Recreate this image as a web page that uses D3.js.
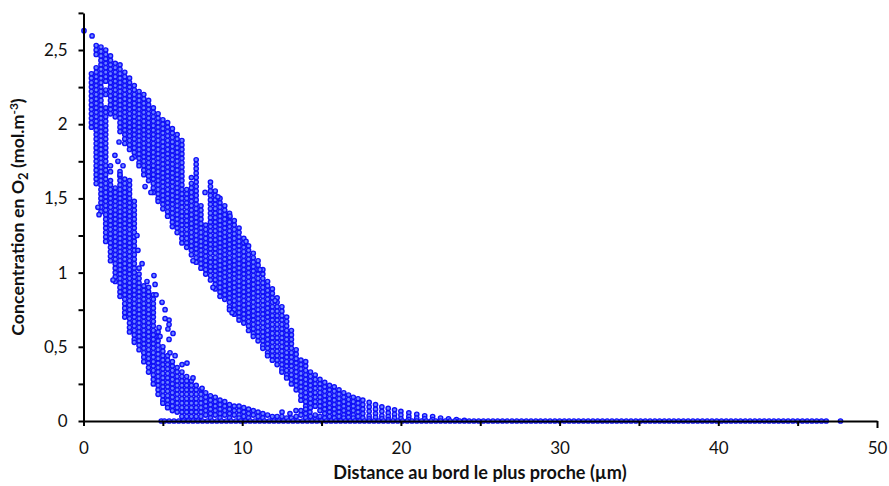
<!DOCTYPE html>
<html><head><meta charset="utf-8">
<script src="https://cdn.jsdelivr.net/npm/d3@7"></script>
<style>html,body{margin:0;background:#fff}svg{display:block}text{font-family:Lato,sans-serif;fill:#111}</style>
</head><body><svg id="c" width="889" height="486"></svg>
<script>
const xTicks=[0,5,10,15,20,25,30,35,40,45,50];
const yTicks=[0,.25,.5,.75,1,1.25,1.5,1.75,2,2.25,2.5,2.75];
const xTitle="Distance au bord le plus proche (µm)";
const columnX=[.03,.54,.5,.8,1.1,1.4,1.7,2,2.3,2.6,2.9,3.2,3.5,3.8,4.1,4.4,4.7,5,5.3,5.6,5.9,6.2,6.5,6.8,7.1,7.4,7.7,8,8.3,8.6,8.9,9.2,9.5,9.8,10.1,10.4,10.7,11,11.3,11.6,11.9,12.2,12.5,12.8,13.1,13.4,13.7,14,14.3,14.6,14.9,15.2,15.5,15.8,16.1,16.4,16.7,17,17.3,17.6,18,18.4,18.8,19.2,19.6,20,20.5,21,21.5,22,22.5,23,23.5,24];
const columnY=[
[2.63],
[2.595],
[2.34,2.31,2.28,2.25,2.22,2.19,2.16,2.13,2.10,2.07,2.04,2.01,1.98],
[2.53,2.50,2.47,2.38,2.35,2.32,2.29,2.26,2.23,2.20,2.17,2.14,2.11,2.08,2.05,2.02,1.99,1.96,1.93,1.90,1.87,1.84,1.81,1.78,1.75,1.72,1.69,1.66,1.63,1.60],
[2.52,2.49,2.46,2.43,2.40,2.37,2.34,2.31,2.28,2.25,2.22,2.19,2.16,2.13,2.10,2.07,2.04,2.01,1.98,1.95,1.92,1.89,1.86,1.83,1.80,1.77,1.74,1.71,1.68,1.65,1.62,1.59,1.56,1.53,1.50,1.47,1.44,1.41],
[2.50,2.47,2.44,2.41,2.38,2.35,2.32,2.29,2.23,2.20,2.11,2.08,2.05,2.02,1.99,1.96,1.93,1.90,1.87,1.84,1.81,1.78,1.75,1.72,1.69,1.66,1.63,1.60,1.57,1.54,1.51,1.48,1.45,1.42,1.39,1.36,1.33,1.30,1.27,1.24,1.21],
[2.46,2.43,2.40,2.37,2.34,2.31,2.28,2.25,2.22,2.19,2.16,2.13,2.10,2.07,1.72,1.68,1.62,1.59,1.56,1.53,1.50,1.47,1.44,1.41,1.38,1.35,1.32,1.29,1.26,1.23,1.20,1.17,1.14,1.11,1.08],
[2.41,2.38,2.35,2.32,2.29,2.26,2.23,2.20,2.17,2.14,2.11,2.08,2.05,1.57,1.54,1.51,1.48,1.45,1.42,1.39,1.36,1.33,1.30,1.27,1.24,1.21,1.18,1.15,1.12,1.09,1.06,1.03,1.00,.97,.94],
[2.40,2.37,2.34,2.31,2.28,2.25,2.22,2.19,2.16,2.13,2.10,2.07,2.04,2.01,1.98,1.95,1.68,1.65,1.62,1.59,1.56,1.53,1.50,1.47,1.44,1.41,1.38,1.35,1.32,1.29,1.26,1.23,1.20,1.17,1.14,1.11,1.08,1.05,1.02,.99,.96,.93,.90,.87,.84],
[2.35,2.32,2.29,2.26,2.23,2.20,2.17,2.14,2.11,2.08,2.05,2.02,1.99,1.96,1.93,1.90,1.87,1.63,1.60,1.57,1.54,1.51,1.48,1.45,1.42,1.39,1.36,1.33,1.30,1.27,1.24,1.21,1.18,1.15,1.12,1.09,1.06,1.03,1.00,.97,.94,.91,.88,.85,.82,.79,.76,.73,.70],
[2.31,2.28,2.25,2.22,2.19,2.16,2.13,2.10,2.07,2.04,2.01,1.98,1.95,1.92,1.89,1.86,1.83,1.62,1.59,1.56,1.53,1.50,1.47,1.44,1.41,1.38,1.35,1.32,1.29,1.26,1.23,1.20,1.17,1.14,1.11,1.08,1.05,1.02,.99,.96,.93,.90,.87,.84,.81,.78,.75,.72,.69,.66,.63,.60],
[2.26,2.23,2.20,2.17,2.14,2.11,2.08,2.05,2.02,1.99,1.96,1.93,1.90,1.87,1.84,1.81,1.78,1.48,1.45,1.42,1.39,1.36,1.33,1.30,1.27,1.24,1.21,1.18,1.15,1.12,1.09,1.06,1.03,1.00,.97,.94,.91,.88,.85,.82,.79,.76,.73,.70,.67,.64,.61,.58,.55,.53],
[2.22,2.19,2.16,2.13,2.10,2.07,2.04,2.01,1.98,1.95,1.92,1.89,1.86,1.83,1.80,1.77,1.74,1.72,1.03,.99,.96,.93,.90,.87,.84,.81,.78,.75,.72,.69,.66,.63,.60,.57,.54,.51,.48],
[2.20,2.17,2.14,2.11,2.08,2.05,2.02,1.99,1.96,1.93,1.90,1.87,1.84,1.81,1.78,1.75,1.72,1.69,1.66,.91,.88,.85,.82,.79,.76,.73,.70,.67,.64,.61,.58,.55,.52,.49,.46,.43,.40],
[2.16,2.13,2.10,2.07,2.04,2.01,1.98,1.95,1.92,1.89,1.86,1.83,1.80,1.77,1.74,1.71,1.68,1.65,1.62,.90,.87,.84,.81,.78,.75,.72,.69,.66,.63,.60,.57,.54,.51,.48,.45,.42,.39,.36,.33],
[2.11,2.08,2.05,2.02,1.99,1.96,1.93,1.90,1.87,1.84,1.81,1.78,1.75,1.72,1.69,1.66,1.63,1.60,1.57,1.54,.85,.82,.79,.76,.73,.70,.67,.64,.61,.58,.55,.52,.49,.46,.43,.40,.37,.34,.31,.28,.25],
[2.07,2.04,2.01,1.98,1.95,1.92,1.89,1.86,1.83,1.80,1.77,1.74,1.71,1.68,1.65,1.62,1.59,1.56,1.53,1.50,1.48,.60,.57,.54,.51,.48,.45,.42,.39,.36,.33,.30,.27,.24,.21,.18],
[2.03,2.00,1.97,1.94,1.91,1.88,1.85,1.82,1.79,1.76,1.73,1.70,1.67,1.64,1.61,1.58,1.55,1.52,1.49,1.46,1.43,.50,.47,.44,.41,.38,.35,.32,.29,.26,.23,.20,.17,.14,.12],
[2.01,1.98,1.95,1.92,1.89,1.86,1.83,1.80,1.77,1.74,1.71,1.68,1.65,1.62,1.59,1.56,1.53,1.50,1.47,1.44,1.41,1.38,.44,.41,.38,.35,.32,.29,.26,.23,.20,.17,.14,.11,.09],
[1.97,1.94,1.91,1.88,1.85,1.82,1.79,1.76,1.73,1.70,1.67,1.64,1.61,1.58,1.55,1.52,1.49,1.46,1.43,1.40,1.37,1.34,1.31,.40,.37,.34,.31,.28,.25,.22,.19,.16,.13,.10,.07],
[1.93,1.90,1.87,1.84,1.81,1.78,1.75,1.72,1.69,1.66,1.63,1.60,1.57,1.54,1.51,1.48,1.45,1.42,1.39,1.36,1.33,1.30,1.27,.36,.33,.30,.27,.24,.21,.18,.15,.12,.09,.06],
[1.89,1.86,1.83,1.80,1.77,1.74,1.71,1.68,1.65,1.62,1.59,1.56,1.53,1.50,1.47,1.44,1.41,1.38,1.35,1.32,1.29,1.26,1.23,1.20,.33,.30,.27,.24,.21,.18,.15,.12,.09,.06,.03],
[1.56,1.53,1.50,1.47,1.44,1.41,1.38,1.35,1.32,1.29,1.26,1.23,1.20,1.17,.30,.27,.24,.21,.18,.15,.12,.09,.06,.03],
[1.64,1.60,1.57,1.54,1.51,1.48,1.45,1.42,1.39,1.36,1.33,1.30,1.27,1.24,1.21,1.18,1.15,1.12,.27,.24,.21,.18,.15,.12,.09,.06,.03],
[1.76,1.73,1.70,1.67,1.64,1.61,1.58,1.55,1.52,1.49,1.46,1.43,1.40,1.37,1.34,1.31,1.28,1.25,1.22,1.19,1.16,1.13,1.10,1.07,.24,.21,.18,.15,.12,.09,.06,.03],
[1.45,1.42,1.39,1.36,1.33,1.30,1.27,1.24,1.21,1.18,1.15,1.12,1.09,1.06,1.03,.21,.18,.15,.12,.09,.06,.03],
[1.32,1.29,1.26,1.23,1.20,1.17,1.14,1.11,1.08,1.05,1.02,.99,.19,.16,.13,.10,.07,.04],
[1.61,1.58,1.55,1.52,1.49,1.46,1.43,1.40,1.37,1.34,1.31,1.28,1.25,1.22,1.19,1.16,1.13,1.10,1.07,1.04,1.01,.98,.95,.17,.14,.11,.08,.05,.02],
[1.55,1.52,1.49,1.46,1.43,1.40,1.37,1.34,1.31,1.28,1.25,1.22,1.19,1.16,1.13,1.10,1.07,1.04,1.01,.98,.95,.92,.89,.16,.13,.10,.07,.04],
[1.50,1.47,1.44,1.41,1.38,1.35,1.32,1.29,1.26,1.23,1.20,1.17,1.14,1.11,1.08,1.05,1.02,.99,.96,.93,.90,.87,.84,.14,.11,.08,.05,.02],
[1.45,1.42,1.39,1.36,1.33,1.30,1.27,1.24,1.21,1.18,1.15,1.12,1.09,1.06,1.03,1.00,.97,.94,.91,.88,.85,.82,.13,.10,.07,.04],
[1.40,1.37,1.34,1.31,1.28,1.25,1.22,1.19,1.16,1.13,1.10,1.07,1.04,1.01,.98,.95,.92,.89,.86,.83,.80,.77,.75,.11,.08,.05,.02],
[1.35,1.32,1.29,1.26,1.23,1.20,1.17,1.14,1.11,1.08,1.05,1.02,.99,.96,.93,.90,.87,.84,.81,.78,.75,.72,.10,.07,.04],
[1.30,1.27,1.24,1.21,1.18,1.15,1.12,1.09,1.06,1.03,1.00,.97,.94,.91,.88,.85,.82,.79,.76,.73,.70,.68,.10,.07,.04,.02],
[1.23,1.20,1.17,1.14,1.11,1.08,1.05,1.02,.99,.96,.93,.90,.87,.84,.81,.78,.75,.72,.69,.66,.09,.06,.03],
[1.18,1.15,1.12,1.09,1.06,1.03,1.00,.97,.94,.91,.88,.85,.82,.79,.76,.73,.70,.67,.64,.61,.08,.05,.02],
[1.13,1.10,1.07,1.04,1.01,.98,.95,.92,.89,.86,.83,.80,.77,.74,.71,.68,.65,.62,.59,.57,.07,.04],
[1.08,1.05,1.02,.99,.96,.93,.90,.87,.84,.81,.78,.75,.72,.69,.66,.63,.60,.57,.54,.06,.03],
[1.02,.99,.96,.93,.90,.87,.84,.81,.78,.75,.72,.69,.66,.63,.60,.57,.54,.51,.49,.05,.02],
[.94,.91,.88,.85,.82,.79,.76,.73,.70,.67,.64,.61,.58,.55,.52,.49,.46,.44,.04],
[.89,.86,.83,.80,.77,.74,.71,.68,.65,.62,.59,.56,.53,.50,.47,.44,.41,.03],
[.83,.80,.77,.74,.71,.68,.65,.62,.59,.56,.53,.50,.47,.44,.41,.38,.03],
[.77,.74,.71,.68,.65,.62,.59,.56,.53,.50,.47,.44,.41,.38,.35,.33,.03],
[.70,.67,.64,.61,.58,.55,.52,.49,.46,.43,.40,.37,.34,.31,.29,.02],
[.61,.58,.55,.52,.49,.46,.43,.40,.37,.34,.31,.28,.25,.02],
[.48,.45,.42,.39,.36,.33,.30,.27,.24,.21,.03],
[.41,.38,.35,.32,.29,.26,.23,.20,.17,.14,.07,.04],
[.40,.37,.34,.31,.28,.25,.22,.19,.16,.13,.10,.08,.05,.02],
[.33,.30,.27,.24,.21,.18,.15,.12,.09,.03],
[.31,.28,.25,.22,.19,.16,.13,.10,.04,.01],
[.28,.25,.22,.19,.16,.13,.10,.07,.03],
[.26,.23,.20,.17,.14,.11,.08,.05,.02],
[.24,.21,.18,.15,.12,.09,.06,.03],
[.23,.20,.17,.14,.11,.08,.05,.02],
[.21,.18,.15,.12,.09,.06,.03],
[.19,.16,.13,.10,.07,.04,.02],
[.175,.145,.115,.085,.055,.025],
[.16,.13,.10,.07,.04,.02],
[.15,.12,.09,.06,.03],
[.14,.11,.08,.05,.02],
[.125,.095,.065,.035,.015],
[.11,.08,.05,.025],
[.095,.065,.035,.015],
[.085,.055,.03,.01],
[.075,.045,.02],
[.065,.04,.015],
[.055,.03,.01],
[.045,.02],
[.035,.015],
[.03,.01],
[.02],
[.015],
[.01],
[.005]
];
const scatterX=[4.44,4.51,4,4.57,4.95,5.14,5.39,5.39,5.32,5.64,5.39,4.82,4.76,5.14,3.37,3.69,3.43,6.52,6.21,5.77,5.45,6.9,7.47,1.86,.91,.98,3.88,4.25,2.24,3.06,1.98,2.49,2.17,2.3,7.66,8.47,9.23,11.12,10.24,12.07,9.36,8.16,6.9,12.51,13.01,13.39,14.27];
const scatterY=[.98,.92,.94,.85,.80,.75,.68,.65,.62,.59,.55,.57,.63,.69,1.25,1.06,1.15,.39,.38,.44,.46,.29,.22,.95,1.44,1.39,1.58,1.54,1.88,1.77,1.79,1.72,1.75,1.66,1.54,1.51,1.38,1.02,1.21,.81,.73,.9,1.08,.06,.05,.07,.06];
const baselineX=[4.9,5.1,5.4,5.7,6,6.3,6.6,6.9,7.2,7.5,7.8,8.1,8.4,8.7,9,9.3,9.6,9.9,10.2,10.5,10.8,11.1,11.4,11.7,12,12.3,12.6,12.9,13.2,13.5,13.8,14.1,14.4,14.7,15,15.3,15.6,15.9,16.2,16.5,16.8,17.1,17.4,17.7,18,18.3,18.6,18.9,19.2,19.5,19.8,20.1,20.4,20.7,21,21.3,21.6,21.9,22.2,22.5,22.8,23.1,23.4,23.7,24,24.3,24.6,24.9,25.2,25.5,25.8,26.1,26.4,26.7,27,27.3,27.6,27.9,28.2,28.5,28.8,29.1,29.4,29.7,30,30.3,30.6,30.9,31.2,31.5,31.8,32.1,32.4,32.7,33,33.3,33.6,33.9,34.2,34.5,34.8,35.1,35.4,35.7,36,36.3,36.6,36.9,37.2,37.5,37.8,38.1,38.4,38.7,39,39.3,39.6,39.9,40.2,40.5,40.8,41.1,41.4,41.7,42,42.3,42.6,42.9,43.2,43.5,43.8,44.1,44.4,44.7,45,45.3,45.6,45.9,46.2,46.5,46.8,47.7];

const svg=d3.select("#c");
const x=d3.scaleLinear().domain([0,50]).range([83.5,877]);
const y=d3.scaleLinear().domain([0,2.75]).range([421,12.9]);
const fmt=v=>String(v).replace(".",",");

const pts=[];
columnX.forEach((cx,i)=>columnY[i].forEach(v=>pts.push([cx,v])));
scatterX.forEach((v,i)=>pts.push([v,scatterY[i]]));
baselineX.forEach(v=>pts.push([v,0]));

svg.append("g").selectAll("circle").data(pts).join("circle")
  .attr("cx",d=>x(d[0])).attr("cy",d=>y(d[1])).attr("r",2.15)
  .attr("fill","#6c84ff").attr("stroke","#1010f8").attr("stroke-width",1.4);

const gx=svg.append("g").attr("transform","translate(0,421)")
  .call(d3.axisBottom(x).tickValues(xTicks).tickSize(5).tickSizeOuter(0).tickPadding(16)
    .tickFormat(v=>v%10===0?v:""));
const gy=svg.append("g").attr("transform","translate(83.5,0)")
  .call(d3.axisLeft(y).tickValues(yTicks).tickSize(5).tickSizeOuter(0).tickPadding(11)
    .tickFormat(v=>v%.5===0?fmt(v):""));
[gx,gy].forEach(g=>{
  g.select(".domain").attr("stroke","#000").attr("stroke-width",2);
  g.selectAll(".tick line").attr("stroke","#000").attr("stroke-width",2);
  g.selectAll(".tick text").attr("font-size",17).style("font-family","Lato,sans-serif").attr("fill","#111");
});
gx.selectAll(".tick").filter(d=>d===50).select("line").attr("y2",7);

svg.append("text").attr("x",480).attr("y",479).attr("text-anchor","middle")
  .attr("font-size",18.1).attr("font-weight",700).text(xTitle);
const t=svg.append("text").attr("transform","translate(24,217) rotate(-90)")
  .attr("text-anchor","middle").attr("font-size",17.8).attr("font-weight",700);
t.append("tspan").text("Concentration en O");
t.append("tspan").attr("dy",4).attr("font-size",13).text("2");
t.append("tspan").attr("dy",-4).text(" (mol.m");
t.append("tspan").attr("dy",-6).attr("font-size",12).text("-3");
t.append("tspan").attr("dy",6).text(")");
</script></body></html>
